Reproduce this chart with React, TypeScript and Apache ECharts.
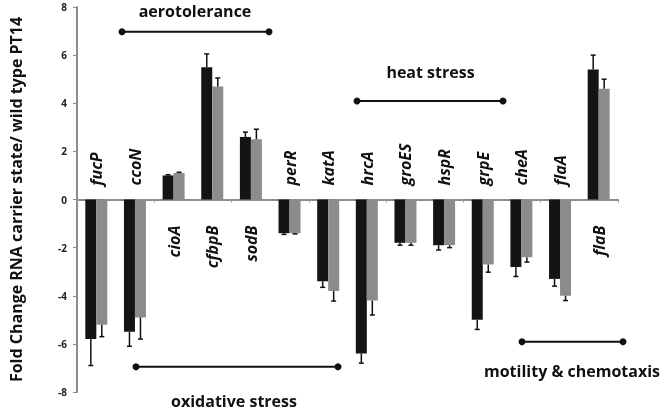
import React, { useEffect, useRef } from "react";
import * as echarts from "echarts";

const categories = ["fucP", "ccoN", "cioA", "cfbpB", "sodB", "perR", "katA", "hrcA", "groES", "hspR", "grpE", "cheA", "flaA", "flaB"];
const blackValues = [-5.8, -5.5, 1.0, 5.5, 2.6, -1.4, -3.4, -6.4, -1.8, -1.9, -5.0, -2.8, -3.3, 5.4];
const blackErrors = [1.1, 0.6, 0.03, 0.55, 0.2, 0.05, 0.25, 0.4, 0.1, 0.2, 0.4, 0.4, 0.3, 0.6];
const grayValues = [-5.2, -4.9, 1.1, 4.7, 2.5, -1.4, -3.8, -4.2, -1.8, -1.9, -2.7, -2.4, -4.0, 4.6];
const grayErrors = [0.5, 0.9, 0.03, 0.35, 0.42, 0.03, 0.42, 0.6, 0.1, 0.1, 0.32, 0.2, 0.2, 0.4];
const yTicks = { min: -8, max: 8, interval: 2 };
const yTitle = "Fold Change RNA carrier state/ wild type PT14";

const BAR_W = 11;
const FONT = "'Open Sans', 'Noto Sans', sans-serif";

function errorRenderer(offset: number) {
  return (params: any, api: any) => {
    const i = api.value(0);
    const v = api.value(1);
    const e = api.value(2);
    const end = v >= 0 ? v + e : v - e;
    const p0 = api.coord([i, v]);
    const p1 = api.coord([i, end]);
    const x = p0[0] + offset;
    return {
      type: "group",
      children: [
        { type: "line", shape: { x1: x, y1: p0[1], x2: x, y2: p1[1] }, style: { stroke: "#111", lineWidth: 1.5 } },
        { type: "line", shape: { x1: x - 2.5, y1: p1[1], x2: x + 2.5, y2: p1[1] }, style: { stroke: "#111", lineWidth: 1.5 } },
      ],
    };
  };
}

function annotation(x1: number, x2: number, y: number, label: string, tx: number, ty: number) {
  return [
    { type: "line", shape: { x1, y1: y, x2, y2: y }, style: { stroke: "#111", lineWidth: 2 } },
    { type: "circle", shape: { cx: x1, cy: y, r: 3.5 }, style: { fill: "#111" } },
    { type: "circle", shape: { cx: x2, cy: y, r: 3.5 }, style: { fill: "#111" } },
    {
      type: "text",
      x: tx,
      y: ty,
      style: { text: label, font: `bold 16px ${FONT}`, fill: "#111", align: "center", verticalAlign: "middle" },
    },
  ];
}

export default function App() {
  const ref = useRef<HTMLDivElement>(null);
  useEffect(() => {
    if (!ref.current) return;
    const chart = echarts.init(ref.current, null, { renderer: "svg" });
    chart.setOption({
      animation: false,
      grid: { left: 69, right: 51, top: 7, bottom: 19 },
      xAxis: {
        type: "category",
        data: categories,
        axisLine: { onZero: true, lineStyle: { color: "#8c8c8c", width: 2 } },
        axisTick: { show: true, length: 3, lineStyle: { color: "#9a9a9a" } },
        axisLabel: { show: false },
      },
      yAxis: {
        type: "value",
        min: yTicks.min,
        max: yTicks.max,
        interval: yTicks.interval,
        name: yTitle,
        nameLocation: "middle",
        nameGap: 53,
        nameTextStyle: { fontFamily: FONT, fontWeight: "bold", fontSize: 16, color: "#111" },
        axisLine: { show: true, lineStyle: { color: "#8c8c8c", width: 2 } },
        axisTick: { show: true, length: 4, lineStyle: { color: "#8c8c8c" } },
        axisLabel: { fontFamily: FONT, fontWeight: "bold", fontSize: 10, color: "#222", margin: 10 },
        splitLine: { show: false },
      },
      series: [
        { type: "bar", name: "carrier", data: blackValues, barWidth: BAR_W, barGap: "0%", itemStyle: { color: "#141414" } },
        { type: "bar", name: "wild", data: grayValues, barWidth: BAR_W, barGap: "0%", itemStyle: { color: "#8c8c8c" } },
        {
          type: "custom",
          data: blackValues.map((v, i) => [i, v, blackErrors[i]]),
          renderItem: errorRenderer(-BAR_W / 2),
          z: 5,
        },
        {
          type: "custom",
          data: grayValues.map((v, i) => [i, v, grayErrors[i]]),
          renderItem: errorRenderer(BAR_W / 2),
          z: 5,
        },
        {
          type: "custom",
          data: blackValues.map((v, i) => [i, v]),
          renderItem: (params: any, api: any) => {
            const i = api.value(0);
            const v = api.value(1);
            const p = api.coord([i, 0]);
            const neg = v < 0;
            return {
              type: "text",
              x: p[0],
              y: neg ? p[1] - 14 : p[1] + 26,
              rotation: Math.PI / 2,
              style: {
                text: categories[i],
                font: `italic bold 16px ${FONT}`,
                fill: "#111",
                align: neg ? "left" : "right",
                verticalAlign: "middle",
              },
            };
          },
          z: 6,
        },
      ],
      graphic: [
        ...annotation(122, 269, 31.7, "aerotolerance", 195, 11),
        ...annotation(357, 503, 101, "heat stress", 430.5, 72),
        ...annotation(136, 338, 366.7, "oxidative stress", 234, 400.5),
        ...annotation(522, 623, 341.7, "motility & chemotaxis", 572, 370.5),
      ],
    });
    return () => chart.dispose();
  }, []);
  return <div ref={ref} style={{ position: "fixed", left: 0, top: 0, width: 669, height: 411 }} />;
}
